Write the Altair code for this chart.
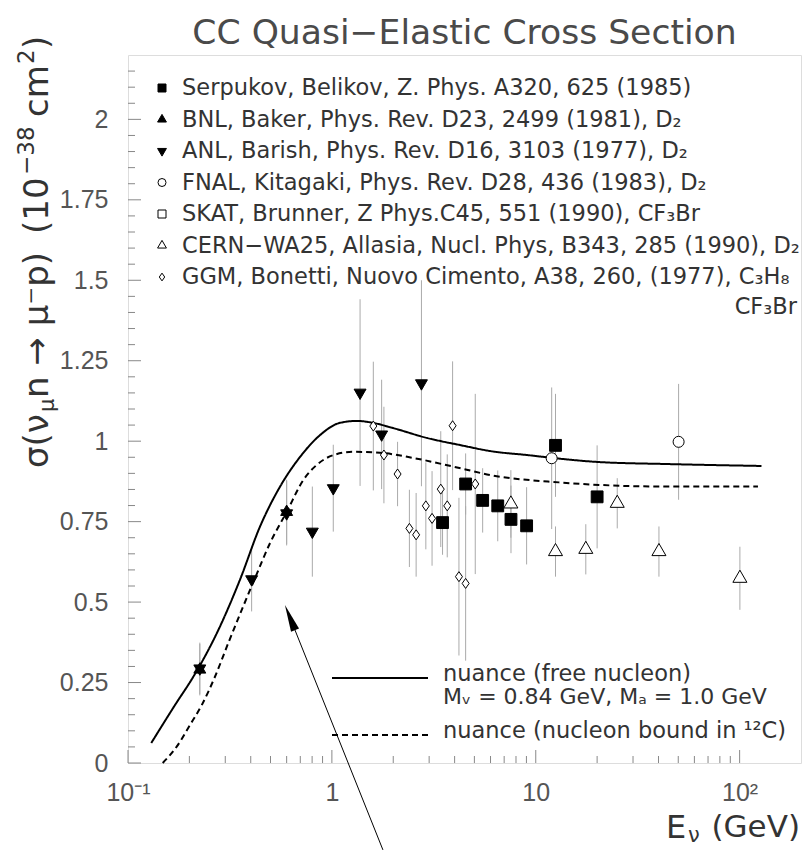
import altair as alt
import pandas as pd

# ---------------- model curves: sigma (1e-38 cm^2) versus E_nu (GeV)
FREE_LABEL = "nuance (free nucleon)"
FREE_NOTE = "Mᵥ = 0.84 GeV, Mₐ = 1.0 GeV"
BOUND_LABEL = "nuance (nucleon bound in ¹²C)"

FREE_E = [0.13, 0.17, 0.21, 0.273, 0.354, 0.443, 0.556, 0.698, 0.875, 1.097,
          1.33, 1.59, 1.99, 2.93, 4.25, 6.17, 9.05, 12.1, 20.6, 44.0, 128.0]
FREE_SIGMA = [0.062, 0.18, 0.27, 0.404, 0.569, 0.733, 0.858, 0.951, 1.019, 1.057,
              1.063, 1.057, 1.041, 1.010, 0.988, 0.968, 0.957, 0.948, 0.935, 0.929, 0.923]

BOUND_E = [0.148, 0.173, 0.20, 0.23, 0.267, 0.31, 0.367, 0.42, 0.497, 0.60, 0.724,
           0.842, 1.02, 1.27, 1.72, 2.5, 3.94, 6.2, 13.0, 20.6, 44.0, 123.0]
BOUND_SIGMA = [0.0, 0.05, 0.115, 0.18, 0.268, 0.372, 0.486, 0.575, 0.683, 0.78, 0.879,
               0.926, 0.957, 0.967, 0.964, 0.948, 0.921, 0.893, 0.872, 0.864, 0.859, 0.859]

# ---------------- measurements
EXPERIMENTS = [
    "Serpukov, Belikov, Z. Phys. A320, 625 (1985)",
    "BNL, Baker, Phys. Rev. D23, 2499 (1981), D₂",
    "ANL, Barish, Phys. Rev. D16, 3103 (1977), D₂",
    "FNAL, Kitagaki, Phys. Rev. D28, 436 (1983), D₂",
    "SKAT, Brunner, Z Phys.C45, 551 (1990), CF₃Br",
    "CERN−WA25, Allasia, Nucl. Phys, B343, 285 (1990), D₂",
    "GGM, Bonetti, Nuovo Cimento, A38, 260, (1977), C₃H₈",
]
GGM_EXTRA = "CF₃Br"

SERP_E = [3.49, 4.53, 5.49, 6.51, 7.56, 9.02, 12.5, 20.0]
SERP_S = [0.747, 0.867, 0.816, 0.799, 0.757, 0.737, 0.987, 0.827]
SERP_ERR = [0.10, 0.095, 0.10, 0.11, 0.105, 0.12, 0.16, 0.16]

BNL_E = [0.225, 0.60]
BNL_S = [0.29, 0.78]
BNL_ERR = [0.08, 0.10]

ANL_E = [0.225, 0.404, 0.60, 0.802, 1.016, 1.375, 1.754, 2.75]
ANL_S = [0.294, 0.571, 0.776, 0.719, 0.854, 1.151, 1.021, 1.18]
ANL_ERR = [0.08, 0.10, 0.10, 0.14, 0.135, 0.29, 0.17, 0.32]

FNAL_E = [11.97, 50.2]
FNAL_S = [0.947, 0.998]
FNAL_ERR = [0.22, 0.18]

SKAT_E = []
SKAT_S = []
SKAT_ERR = []

CERN_E = [7.55, 12.5, 17.6, 25.1, 40.2, 100.3]
CERN_S = [0.805, 0.657, 0.664, 0.807, 0.657, 0.574]
CERN_ERR = [0.105, 0.078, 0.078, 0.078, 0.078, 0.098]

GGM_E = [1.597, 1.80, 2.10, 2.40, 2.59, 2.89, 3.10, 3.42, 3.68, 3.91, 4.20, 4.53, 5.05]
GGM_S = [1.047, 0.957, 0.898, 0.729, 0.709, 0.799, 0.760, 0.851, 0.799, 1.048, 0.579, 0.558, 0.867]
GGM_ERR = [0.20, 0.15, 0.10, 0.12, 0.13, 0.135, 0.147, 0.18, 0.16, 0.20, 0.245, 0.24, 0.28]

# ---------------- axis ticks
X_TICKS = [0.1, 1, 10, 100]
X_TICK_LABELS = ["10⁻¹", "1", "10", "10²"]
X_MINOR = [m * d for d in (0.1, 1, 10) for m in range(2, 10)]
Y_TICKS = [0, 0.25, 0.5, 0.75, 1, 1.25, 1.5, 1.75, 2]
Y_TICK_LABELS = ["0", "0.25", "0.5", "0.75", "1", "1.25", "1.5", "1.75", "2"]
Y_MINOR = [round(i * 0.05, 2) for i in range(0, 44) if i % 5 != 0]

# annotation arrow (data coordinates: head centre and tail)
ARROW_HEAD = (0.623, 0.452)
ARROW_TAIL = (1.78, -0.27)

# ---------------- styling
W, H = 673, 708
TEXT = "#333333"
FONT = "DejaVu Sans"
NUM_FONT = "Liberation Sans"
LEG_SIZE = 22.5
TITLE_SIZE = 34
SUB_SIZE = 21
SUP_SIZE = 23

TRI_UP = "M0,-1L0.866,0.5L-0.866,0.5Z"
TRI_DOWN = "M0,1L0.866,-0.5L-0.866,-0.5Z"
DIAMOND = "M0,-1L0.7,0L0,1L-0.7,0Z"
SHAPES = ["square", TRI_UP, TRI_DOWN, "circle", "square", TRI_UP, DIAMOND]
FILLS = ["black", "black", "black", "white", "white", "white", "white"]
MARK_SIZES = [140, 190, 190, 121, 121, 262, 100]
KEY_SIZES = [64, 105, 105, 64, 64, 105, 60]

# ---------------- tables
curves = pd.DataFrame(
    {"E": FREE_E + BOUND_E,
     "sigma": FREE_SIGMA + BOUND_SIGMA,
     "model": [FREE_LABEL] * len(FREE_E) + [BOUND_LABEL] * len(BOUND_E)}
)

groups = [
    (SERP_E, SERP_S, SERP_ERR), (BNL_E, BNL_S, BNL_ERR), (ANL_E, ANL_S, ANL_ERR),
    (FNAL_E, FNAL_S, FNAL_ERR), (SKAT_E, SKAT_S, SKAT_ERR), (CERN_E, CERN_S, CERN_ERR),
    (GGM_E, GGM_S, GGM_ERR),
]
rows = []
for k, (name, (es, ss, errs)) in enumerate(zip(EXPERIMENTS, groups)):
    for e, s, d in zip(es, ss, errs):
        rows.append({"E": e, "sigma": s, "lo": s - d, "hi": s + d, "exp": name,
                     "sz": MARK_SIZES[k]})
points = pd.DataFrame(rows)
key = pd.DataFrame({"exp": EXPERIMENTS, "sz": KEY_SIZES})
curve_key = pd.DataFrame({"model": [FREE_LABEL, BOUND_LABEL]})

xs = alt.Scale(type="log", domain=[0.1, 200], nice=False)
ys = alt.Scale(domain=[0, 2.2], nice=False)
# rows of the two keys (pixel rows inside the plot frame)
key_rows = alt.Scale(type="point", domain=EXPERIMENTS, range=[33, 222], padding=0)
curve_rows = alt.Scale(type="point", domain=[FREE_LABEL, BOUND_LABEL], range=[623, 680],
                       padding=0)
shape_scale = alt.Scale(domain=EXPERIMENTS, range=SHAPES)
fill_scale = alt.Scale(domain=EXPERIMENTS, range=FILLS)
dash_scale = alt.Scale(domain=[FREE_LABEL, BOUND_LABEL], range=[[1, 0], [6, 4]])


def lookup_expr(labels, values):
    lab = "[" + ",".join('"{}"'.format(s) for s in labels) + "]"
    val = "[" + ",".join(str(v) for v in values) + "]"
    return "{}[indexof({}, datum.value)]".format(lab, val)


x_axis = alt.Axis(values=X_TICKS, labelExpr=lookup_expr(X_TICK_LABELS, X_TICKS),
                  ticks=False, tickSize=0, domain=False, grid=False, title=None,
                  labelFont=NUM_FONT, labelFontSize=25, labelColor="#555555",
                  labelPadding=17, labelFlush=False, labelOverlap=False)
y_axis = alt.Axis(values=Y_TICKS, labelExpr=lookup_expr(Y_TICK_LABELS, Y_TICKS),
                  ticks=False, tickSize=0, domain=False, grid=False, title=None,
                  labelFont=NUM_FONT, labelFontSize=25, labelColor="#555555",
                  labelPadding=20, labelFlush=False, labelOverlap=False)


def yq(field):
    return alt.Y(field, scale=ys, axis=None)


errbars = alt.Chart(points).mark_rule(color="#aaaaaa", strokeWidth=1).encode(
    x=alt.X("E:Q", scale=xs, axis=x_axis),
    y=alt.Y("lo:Q", scale=ys, axis=y_axis),
    y2="hi:Q",
)

lines = alt.Chart(curves).mark_line(color="black", strokeWidth=2, interpolate="monotone").encode(
    x=alt.X("E:Q", scale=xs),
    y=yq("sigma:Q"),
    strokeDash=alt.StrokeDash("model:N", scale=dash_scale, legend=None),
    order="E:Q",
)

markers = alt.Chart(points).mark_point(filled=True, stroke="black", strokeWidth=1,
                                       opacity=1).encode(
    x=alt.X("E:Q", scale=xs),
    y=yq("sigma:Q"),
    shape=alt.Shape("exp:N", scale=shape_scale, legend=None),
    fill=alt.Fill("exp:N", scale=fill_scale, legend=None),
    size=alt.Size("sz:Q", scale=None, legend=None),
)

# key of the measurements
key_marks = alt.Chart(key).mark_point(filled=True, stroke="black", strokeWidth=1,
                                      opacity=1).encode(
    x=alt.value(34),
    y=alt.Y("exp:N", scale=key_rows, axis=None),
    shape=alt.Shape("exp:N", scale=shape_scale, legend=None),
    fill=alt.Fill("exp:N", scale=fill_scale, legend=None),
    size=alt.Size("sz:Q", scale=None, legend=None),
)
key_text = alt.Chart(key).mark_text(font=FONT, fontSize=LEG_SIZE, color=TEXT, align="left",
                                    baseline="middle").encode(
    x=alt.value(54),
    y=alt.Y("exp:N", scale=key_rows, axis=None),
    text="exp:N",
)

# key of the model curves
curve_key_lines = alt.Chart(curve_key).mark_rule(color="black", strokeWidth=2).encode(
    x=alt.value(204), x2=alt.value(300),
    y=alt.Y("model:N", scale=curve_rows, axis=None),
    strokeDash=alt.StrokeDash("model:N", scale=dash_scale, legend=None),
)
curve_key_text = alt.Chart(curve_key).mark_text(font=FONT, fontSize=LEG_SIZE, color=TEXT,
                                                align="left", baseline="middle", dy=-4).encode(
    x=alt.value(315),
    y=alt.Y("model:N", scale=curve_rows, axis=None),
    text="model:N",
)

x_minor = alt.Chart(pd.DataFrame({"v": X_MINOR})).mark_rule(color="#888888").encode(
    x=alt.X("v:Q", scale=xs), y=alt.value(H), y2=alt.value(H - 7))
x_major = alt.Chart(pd.DataFrame({"v": X_TICKS})).mark_rule(color="#888888").encode(
    x=alt.X("v:Q", scale=xs), y=alt.value(H), y2=alt.value(H - 13))
y_minor = alt.Chart(pd.DataFrame({"v": Y_MINOR})).mark_rule(color="#888888").encode(
    y=yq("v:Q"), x=alt.value(0), x2=alt.value(7))
y_major = alt.Chart(pd.DataFrame({"v": Y_TICKS})).mark_rule(color="#888888").encode(
    y=yq("v:Q"), x=alt.value(0), x2=alt.value(13))


def label(txt, x, y, size, align="left", angle=0, color=TEXT):
    return alt.Chart(pd.DataFrame({"t": [txt]})).mark_text(
        font=FONT, fontSize=size, color=color, align=align, baseline="middle", angle=angle
    ).encode(text="t:N", x=alt.value(x), y=alt.value(y))


ggm_extra = label(GGM_EXTRA, 669, 252, LEG_SIZE, align="right")
free_note = label(FREE_NOTE, 315, 642, LEG_SIZE - 0.5)

# chart title, centred over the plot frame
title = label("CC Quasi−Elastic Cross Section", W / 2, -21, 34.6, align="center",
              color="#4a4a4a")

# y-axis title, read bottom to top; sub- and superscripts as separate pieces
YT_X = -90
y_title = [
    label("σ(ν", YT_X, 413, TITLE_SIZE, angle=270),
    label("μ", YT_X + 10, 357, SUB_SIZE, angle=270),
    label("n → μ⁻p)", YT_X, 343, TITLE_SIZE, angle=270),
    label("(10", YT_X, 179, TITLE_SIZE, angle=270),
    label("−38", YT_X - 11, 120, SUP_SIZE, angle=270),
    label("cm", YT_X, 62, TITLE_SIZE, angle=270),
    label("2", YT_X - 11, 9, SUP_SIZE, angle=270),
    label(")", YT_X, -6, TITLE_SIZE, angle=270),
]

# x-axis title
x_title = [
    label("E", 538, 773, TITLE_SIZE - 2),
    label("ν", 560, 781, SUB_SIZE),
    label("(GeV)", 672, 773, TITLE_SIZE - 3, align="right"),
]

arrow_df = pd.DataFrame({"E": [ARROW_HEAD[0]], "sigma": [ARROW_HEAD[1]],
                         "E2": [ARROW_TAIL[0]], "sigma2": [ARROW_TAIL[1]]})
arrow_line = alt.Chart(arrow_df).mark_rule(color="black", strokeWidth=1).encode(
    x=alt.X("E:Q", scale=xs), y=yq("sigma:Q"), x2="E2:Q", y2="sigma2:Q")
arrow_head = alt.Chart(arrow_df).mark_point(
    shape="M0,-1L0.32,1L-0.32,1Z", size=729, filled=True, color="black", angle=338,
    opacity=1).encode(x=alt.X("E:Q", scale=xs), y=yq("sigma:Q"))

chart = alt.layer(
    errbars, lines, markers, key_marks, key_text, curve_key_lines, curve_key_text,
    x_minor, x_major, y_minor, y_major, ggm_extra, free_note, title, *y_title, *x_title,
    arrow_line, arrow_head,
).resolve_scale(
    y="independent"
).properties(
    width=W, height=H,
    padding={"left": 128, "top": 55, "right": 1, "bottom": 87},
    autosize=alt.AutoSizeParams(type="none"),
).configure_view(
    stroke="#999999", strokeWidth=1
).configure(background="white")

chart.save("out.html", embed_options={"renderer": "svg", "actions": False})
